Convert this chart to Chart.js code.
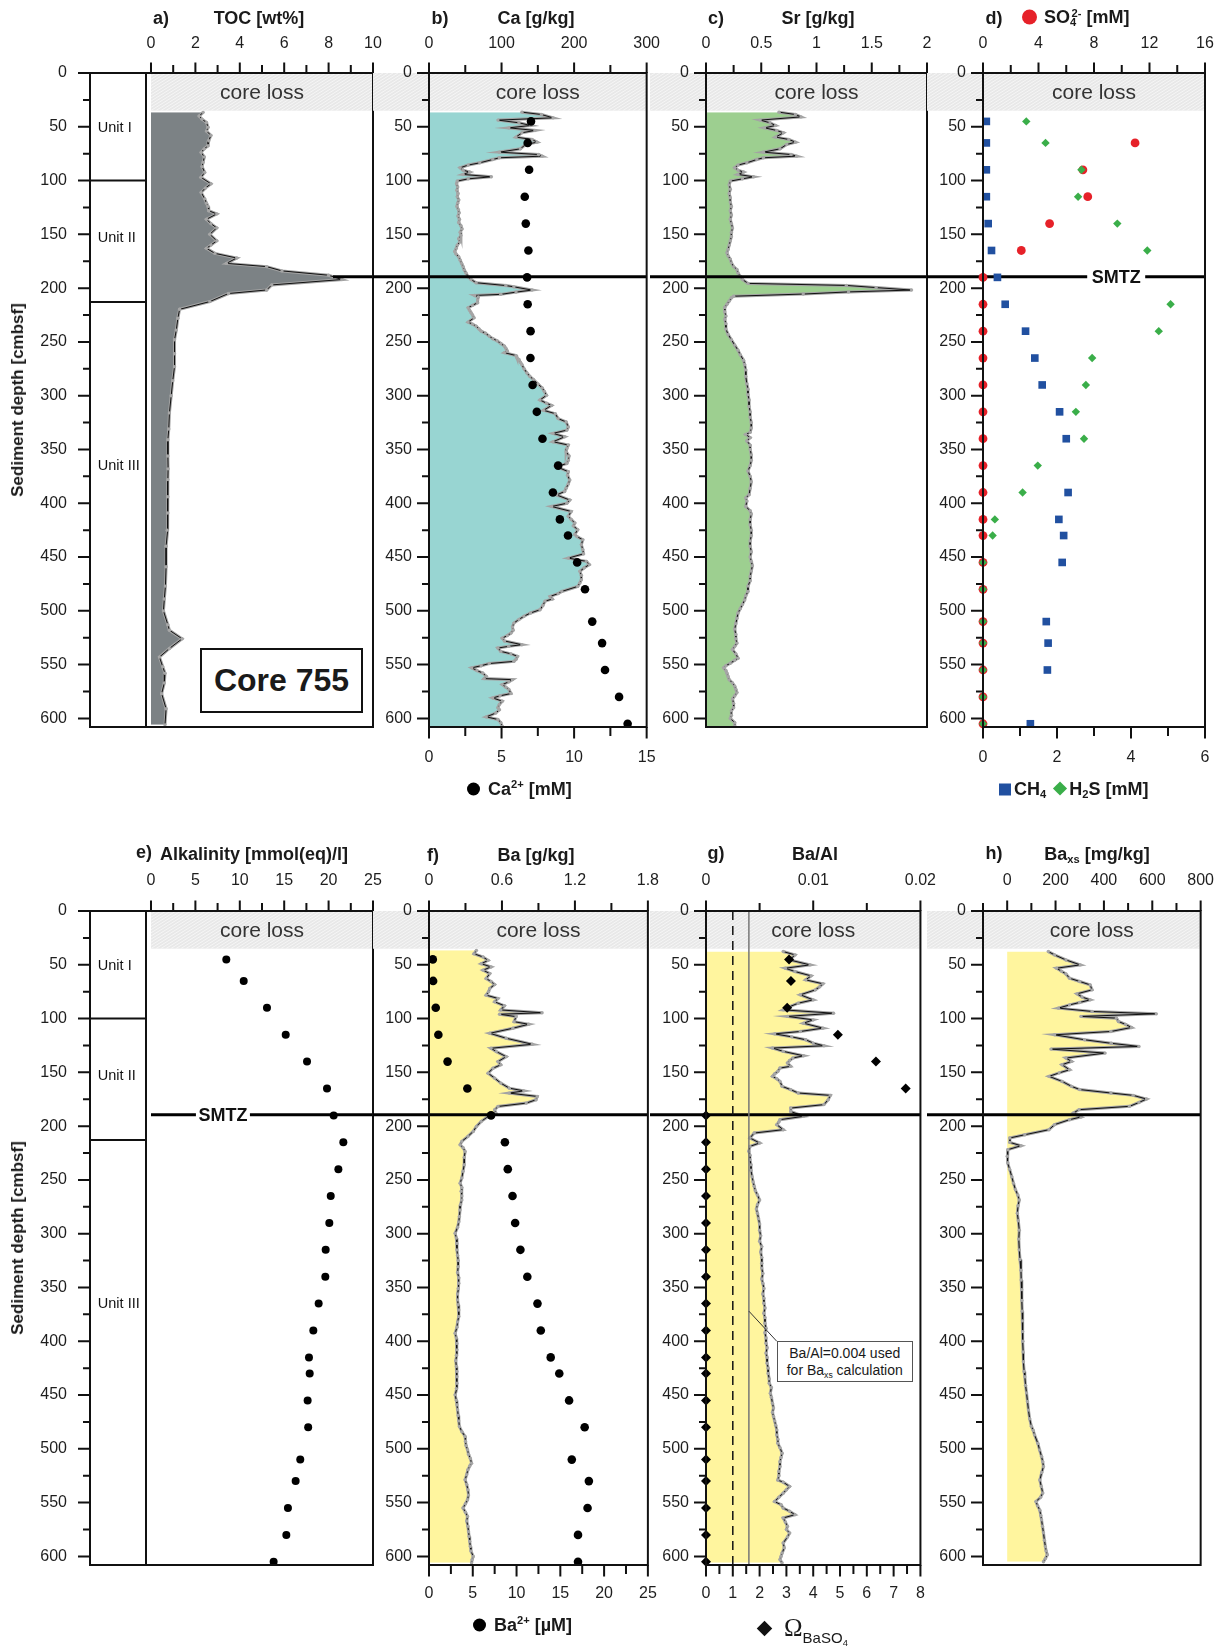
<!DOCTYPE html>
<html>
<head>
<meta charset="utf-8">
<title>Core 755 geochemical profiles</title>
<script src="https://cdn.jsdelivr.net/npm/chart.js@4.4.1/dist/chart.umd.min.js"></script>
<style>
  html, body { margin: 0; padding: 0; background: #fff; }
  body { position: relative; width: 1227px; height: 1647px; overflow: hidden;
         font-family: "Liberation Sans", Arial, sans-serif; color: #1a1a1a; }
  canvas { position: absolute; }
  .t { position: absolute; white-space: nowrap; transform: translate(-50%, -50%); }
  .l { position: absolute; white-space: nowrap; transform: translate(0, -50%); }
  .hd { font-weight: bold; font-size: 18px; }
  .lg { font-weight: bold; font-size: 18px; }
  .cl { font-size: 21px; color: #333; }
  .unit { font-size: 14.5px; color: #111; }
  .smtz { font-weight: bold; font-size: 18px; color: #111; }
  .yt { position: absolute; white-space: nowrap; font-weight: bold; font-size: 17px;
        transform: translate(-50%, -50%) rotate(-90deg); }
  sub, sup { font-size: 62%; line-height: 0; }
  sub { vertical-align: -0.35em; }
  sup { vertical-align: 0.55em; }
  .core { position: absolute; border: 2px solid #111; font-weight: bold; font-size: 32px;
          display: flex; align-items: center; justify-content: center; box-sizing: border-box; background: #fff; }
  .note { position: absolute; border: 1px solid #555; background: #fff; font-size: 14px; line-height: 17px;
          box-sizing: border-box; padding: 3px 0 0 0; text-align: center; color: #1a1a1a; }
</style>
</head>
<body>
<script>
// ---------------------------------------------------------------
// Depth scale, ticks and common levels (cm below sea floor)
// ---------------------------------------------------------------
const DEPTH_MAX = 608;
const CORE_LOSS = 35;          // top interval without recovery
const SMTZ_DEPTH = 189.5;      // sulfate-methane transition zone
const unitBounds = [100, 213];
const unitNames = [['Unit I', 50], ['Unit II', 152], ['Unit III', 364]];

const depthTicks = [0, 25, 50, 75, 100, 125, 150, 175, 200, 225, 250, 275, 300, 325, 350, 375, 400, 425, 450, 475, 500, 525, 550, 575, 600];
const depthLabels = [0, 50, 100, 150, 200, 250, 300, 350, 400, 450, 500, 550, 600];

// axis ticks / labelled ticks
const tocTicks = [0, 1, 2, 3, 4, 5, 6, 7, 8, 9, 10];
const tocLabels = [0, 2, 4, 6, 8, 10];
const caTicks = [0, 50, 100, 150, 200, 250, 300];
const caLabels = [0, 100, 200, 300];
const caPoreTicks = [0, 2.5, 5, 7.5, 10, 12.5, 15];
const caPoreLabels = [0, 5, 10, 15];
const srTicks = [0, 0.25, 0.5, 0.75, 1, 1.25, 1.5, 1.75, 2];
const srLabels = [0, 0.5, 1, 1.5, 2];
const so4Ticks = [0, 2, 4, 6, 8, 10, 12, 14, 16];
const so4Labels = [0, 4, 8, 12, 16];
const gasTicks = [0, 1, 2, 3, 4, 5, 6];
const gasLabels = [0, 2, 4, 6];
const alkTicks = [0, 2.5, 5, 7.5, 10, 12.5, 15, 17.5, 20, 22.5, 25];
const alkLabels = [0, 5, 10, 15, 20, 25];
const baTicks = [0, 0.3, 0.6, 0.9, 1.2, 1.5, 1.8];
const baLabels = [0, 0.6, 1.2, 1.8];
const baPoreTicks = [0, 2.5, 5, 7.5, 10, 12.5, 15, 17.5, 20, 22.5, 25];
const baPoreLabels = [0, 5, 10, 15, 20, 25];
const baAlTicks = [0, 0.005, 0.01, 0.015, 0.02];
const baAlLabels = [0, 0.01, 0.02];
const omegaTicks = [0, 0.5, 1, 1.5, 2, 2.5, 3, 3.5, 4, 4.5, 5, 5.5, 6, 6.5, 7, 7.5, 8];
const omegaLabels = [0, 1, 2, 3, 4, 5, 6, 7, 8];
const baxsTicks = [-100, 0, 100, 200, 300, 400, 500, 600, 700, 800];
const baxsLabels = [0, 200, 400, 600, 800];

// ---------------------------------------------------------------
// Pore-water data (sampling depths shared by all pore-water series)
// ---------------------------------------------------------------
const poreDepth = [45, 65, 90, 115, 140, 165, 190, 215, 240, 265, 290, 315, 340, 365, 390, 415, 430, 455, 480, 510, 530, 555, 580, 605];
const caPore = [7.03, 6.8, 6.9, 6.6, 6.67, 6.85, 6.76, 6.8, 7.0, 6.99, 7.14, 7.43, 7.82, 8.9, 8.54, 9.02, 9.58, 10.21, 10.75, 11.25, 11.93, 12.13, 13.1, 13.69];
const so4Pore = [null, 10.96, 7.2, 7.55, 4.8, 2.76, 0, 0, 0, 0, 0, 0, 0, 0, 0, 0, 0, 0, 0, 0, 0, 0, 0, 0];
const ch4Pore = [0.09, 0.09, 0.09, 0.09, 0.14, 0.23, 0.39, 0.6, 1.15, 1.4, 1.6, 2.07, 2.25, null, 2.3, 2.05, 2.18, 2.14, null, 1.71, 1.76, 1.74, null, 1.28];
const h2sPore = [1.17, 1.69, 2.66, 2.57, 3.63, 4.44, null, 5.07, 4.75, 2.95, 2.78, 2.51, 2.73, 1.48, 1.07, 0.32, 0.26, 0, 0, 0, 0, 0, 0, 0];
const alkalinity = [8.48, 10.44, 13.06, 15.17, 17.57, 19.82, 20.57, 21.66, 21.1, 20.24, 20.08, 19.67, 19.63, 18.88, 18.28, 17.79, 17.87, 17.64, 17.7, 16.81, 16.29, 15.42, 15.24, 13.81];
const baPore = [0.43, 0.47, 0.77, 1.07, 2.12, 4.38, 7.09, 8.67, 9.0, 9.54, 9.84, 10.44, 11.23, 12.39, 12.77, 13.9, 14.88, 16.0, 17.78, 16.31, 18.26, 18.11, 17.02, 17.02];
const omegaBaSO4 = [3.1, 3.17, 3.03, 4.92, 6.34, 7.45, 0, 0, 0, 0, 0, 0, 0, 0, 0, 0, 0, 0, 0, 0, 0, 0, 0, 0];

const BA_AL_DETRITAL = 0.004;   // Ba/Al used for Ba excess
const OMEGA_SATURATION = 1;

// ---------------------------------------------------------------
// Solid-phase profiles: [depth cm, value]
// ---------------------------------------------------------------
const tocProfile = [[36.6,2.35],[40,2.17],[43,2.3],[46,2.5],[50.5,2.57],[54,2.5],[58,2.7],[63,2.6],[67.6,2.57],[70.5,2.4],[73.8,2.26],[78,2.4],[83,2.35],[87,2.3],[92.4,2.42],[97,2.25],[103,2.7],[107,2.45],[111,2.26],[117,2.42],[121,2.5],[124,2.57],[128,2.6],[131,2.96],[136,2.5],[140,2.7],[144,2.96],[150,2.65],[156,2.96],[160,2.7],[163,2.5],[167.7,2.88],[172,3.86],[177,3.4],[180,5.21],[184,5.9],[188,8.0],[192,8.6],[197,5.44],[201.7,5.21],[205,3.49],[212.5,2.65],[219.7,1.29],[228,1.21],[239,1.14],[248,1.06],[261,1.06],[273,1.06],[286,0.98],[300,0.91],[316,0.83],[331,0.8],[341,0.76],[356,0.76],[368,0.77],[378,0.76],[394,0.76],[409,0.76],[425,0.73],[440,0.68],[459,0.68],[477,0.65],[489,0.6],[500,0.56],[513,0.76],[518,0.83],[526,1.4],[535,0.83],[543,0.38],[552,0.53],[558,0.63],[567,0.6],[577,0.48],[591,0.68],[606,0.63]];

const caProfile = [[36.4,128],[38.6,155],[41.7,171],[43.8,95],[46.3,124],[48.8,140],[51,110],[53.4,146],[55.6,128],[59.6,120],[61.8,142],[64.3,149],[66.5,133],[70.5,126],[73.6,97],[75.8,151],[77.3,156],[78.8,97],[80.4,88],[83.5,70],[85.6,54],[88.1,43],[90.3,47],[92.1,56],[94.3,47],[96.5,86],[98.4,54],[100.5,39],[103,38],[106,39.5],[109,38.5],[112,40],[115,39],[118,41],[121,39.5],[124,38.5],[127,40.5],[130,41.5],[133,40],[136,42],[139,41],[142,44],[145,45.5],[148,43],[151,44],[154,41],[157,42.5],[160,39],[163,37.5],[166,35.5],[168,37],[171,41],[174,43],[177,45],[180,47],[183,48.5],[186,51],[189.5,54],[192,58],[195,65],[197.6,106],[198.8,117],[201.8,142],[203.7,120],[205.8,99],[206.8,63],[208.3,68],[211,67],[213.6,67],[216,60],[218.2,54],[220.5,56],[222.9,58],[225,60],[227.6,62],[231.6,54],[233.5,60],[235.3,65],[238,69],[240,72],[242,78],[244.6,83],[247,88],[249,94],[251.5,99],[253.9,104],[256,106],[258.5,108],[260,104],[262.7,120],[264.5,121],[266.4,124],[269,126],[271,128],[275,131],[278.8,135],[282,139],[285,144],[289,150],[292.7,156],[296,159],[299.6,162],[304,153],[307,162],[309,169],[313.6,158],[316.7,174],[321.3,178],[324.4,189],[329,192],[332,190],[335,171],[338.2,187],[342.8,171],[345.9,192],[349,190],[352,189],[356,193],[360,192],[363,190],[366,176],[370.7,192],[374,191],[378.4,194],[382,192],[386,189],[389,187],[392.3,176],[397,194],[400,190],[403,169],[407.6,196],[412,192],[415,196],[418.4,201],[421,199],[424.6,205],[429,201],[431,204],[434,212],[438.6,210],[443,212],[447,213],[451,192],[454,217],[457,221],[460,214],[463.3,208],[467,210],[471,210],[474,208],[477.3,205],[482,183],[484,178],[486.6,167],[489,170],[491,160],[495,157],[499,153],[502,140],[505,131],[508,124],[511.4,117],[515,115],[518,116],[520.7,113],[523,108],[525.4,101],[528,104],[531.5,128],[533,110],[534.6,95],[537.7,99],[540,113],[542.3,122],[545,120],[547,117],[549,83],[551,72],[553,59],[555.5,66],[557.8,74],[560.9,79],[563,76],[564,115],[566,110],[568.6,101],[571,106],[573,110],[576.9,113],[579,98],[581,88],[584,101],[587,97],[590,95],[592,97],[595,92],[598.6,79],[601,95],[604,99],[607.5,101]];

const srProfile = [[36.4,0.66],[38.6,0.81],[40.8,0.86],[43.8,0.49],[46.3,0.58],[48.8,0.63],[51,0.53],[53.4,0.64],[55.6,0.70],[59.6,0.63],[61.8,0.75],[64.3,0.81],[66.5,0.73],[70.5,0.67],[73.6,0.52],[75.8,0.77],[77.3,0.82],[78.8,0.52],[80.4,0.46],[83.5,0.37],[85.6,0.29],[88.1,0.26],[90.3,0.29],[92.1,0.34],[94.3,0.29],[96.5,0.43],[98.4,0.33],[100.5,0.22],[104,0.21],[108,0.22],[112,0.21],[116,0.22],[120,0.22],[124,0.23],[128,0.22],[132,0.23],[136,0.22],[140,0.23],[144,0.24],[148,0.23],[152,0.23],[156,0.22],[160,0.21],[164,0.20],[167,0.19],[170,0.20],[173,0.22],[176.5,0.23],[180,0.25],[182.7,0.28],[186,0.29],[189,0.31],[192,0.33],[195.6,0.38],[197.5,1.27],[199.5,1.54],[201.8,1.86],[203.5,1.29],[205.5,0.88],[207.5,0.25],[209,0.23],[212,0.21],[215,0.19],[218,0.17],[222,0.17],[226,0.18],[229,0.17],[233,0.18],[238,0.18],[243,0.20],[248,0.23],[253,0.26],[257.7,0.29],[262,0.31],[267,0.34],[271,0.35],[276,0.36],[282,0.36],[289,0.37],[294,0.38],[299,0.38],[304,0.39],[310,0.39],[315,0.40],[320,0.40],[325,0.41],[330,0.41],[334,0.40],[336,0.36],[339,0.40],[342,0.37],[346,0.40],[350,0.40],[355,0.41],[360,0.41],[365,0.40],[370,0.38],[375,0.40],[380,0.41],[386,0.40],[392,0.39],[395,0.36],[398,0.37],[403,0.36],[407,0.40],[410,0.41],[415,0.40],[420,0.40],[425,0.41],[430,0.41],[435,0.40],[440,0.40],[445,0.41],[450,0.40],[454,0.41],[458,0.42],[463,0.41],[468,0.40],[472,0.40],[477,0.38],[482,0.38],[486,0.36],[490,0.35],[494,0.33],[498,0.31],[502,0.29],[507,0.28],[512,0.27],[517,0.26],[522,0.27],[526,0.27],[530,0.28],[533,0.26],[536,0.24],[540,0.27],[544,0.29],[546,0.26],[548.7,0.22],[551,0.18],[553,0.16],[555.5,0.18],[558,0.19],[561,0.20],[564,0.21],[567,0.24],[570,0.26],[573,0.27],[576,0.28],[579,0.26],[582,0.24],[586,0.25],[590,0.25],[593,0.23],[597,0.23],[600,0.22],[604,0.26],[607,0.26]];

const baProfile = [[36.6,0.39],[39.7,0.37],[42.8,0.445],[45.9,0.486],[49,0.43],[52,0.51],[55,0.445],[58.2,0.5],[62.8,0.47],[65.5,0.51],[68.4,0.54],[72,0.5],[75,0.49],[78.2,0.47],[81.3,0.567],[84.4,0.54],[88.1,0.62],[92,0.59],[94.6,0.93],[96,0.58],[98.2,0.716],[102.9,0.70],[105.3,0.82],[109,0.69],[113.7,0.5],[118.3,0.635],[123.9,0.85],[127.6,0.51],[130.7,0.554],[135.4,0.635],[140,0.567],[143,0.59],[146.2,0.526],[150.8,0.486],[155.4,0.54],[160,0.59],[164.7,0.66],[167.2,0.78],[169.3,0.66],[172.4,0.89],[175.5,0.88],[178.6,0.80],[181.7,0.567],[184.8,0.54],[187.9,0.55],[191,0.486],[195.6,0.43],[200.3,0.39],[204.9,0.364],[209.6,0.32],[214.2,0.27],[217.3,0.256],[220,0.28],[223.5,0.297],[229,0.29],[235.8,0.29],[242,0.28],[248.2,0.27],[253,0.256],[257,0.27],[260.6,0.264],[265,0.27],[268.7,0.27],[273,0.26],[278,0.255],[284,0.25],[289,0.245],[294,0.235],[299.6,0.215],[304,0.225],[309,0.23],[315,0.23],[320,0.235],[325,0.24],[330.6,0.24],[336,0.235],[341,0.245],[346,0.245],[351,0.24],[356,0.235],[361.5,0.235],[366,0.24],[371,0.245],[377,0.245],[382,0.235],[387,0.23],[392.5,0.215],[397,0.225],[402,0.23],[408,0.23],[413,0.225],[418,0.22],[423.4,0.225],[428,0.23],[433,0.23],[439,0.23],[444,0.225],[449.8,0.215],[455,0.225],[459,0.23],[463.7,0.235],[469,0.24],[474,0.245],[479.2,0.25],[484,0.27],[488.5,0.297],[493,0.3],[497,0.305],[500.9,0.317],[505,0.325],[509,0.34],[513.3,0.35],[516,0.335],[519.5,0.32],[524,0.31],[528.8,0.297],[533,0.31],[538,0.32],[543,0.325],[547.4,0.317],[551,0.3],[555,0.28],[559,0.3],[562.8,0.317],[567,0.31],[572,0.32],[577,0.325],[581.4,0.33],[586,0.335],[590.7,0.34],[595,0.345],[600,0.364],[603,0.355],[606,0.35]];

const baAlProfile = [[37.7,0.0072],[40.8,0.0083],[45.5,0.0078],[50.1,0.0097],[53.2,0.0074],[56.3,0.0083],[60.3,0.0098],[64,0.0093],[67.7,0.0109],[70.5,0.0106],[73.3,0.0102],[77.9,0.0088],[82.6,0.0100],[85.7,0.0086],[89,0.0078],[91.9,0.0072],[95,0.0119],[98,0.0076],[101.2,0.0100],[104.3,0.0091],[108.9,0.0109],[112,0.0088],[114.2,0.0064],[117,0.0080],[119.7,0.0093],[122.8,0.0100],[125.3,0.0110],[127.4,0.0062],[130.5,0.0072],[134.6,0.0091],[136.7,0.0081],[139,0.0078],[141.3,0.0076],[144.4,0.0079],[146,0.0069],[149.1,0.0067],[151.5,0.0064],[153.7,0.0062],[156,0.0066],[158.4,0.0069],[163,0.0071],[166.1,0.0079],[169.2,0.0086],[171.4,0.0116],[175.4,0.0114],[180,0.0110],[183.2,0.0079],[186.3,0.0079],[190.9,0.0091],[194,0.0069],[196,0.0068],[198.6,0.0066],[203.3,0.0072],[206.4,0.0045],[211,0.0041],[215.7,0.0050],[218.8,0.0041],[223.4,0.0040],[227,0.0041],[231.1,0.0041],[236,0.0042],[241,0.0042],[247,0.0043],[252,0.0044],[256,0.0045],[260,0.0046],[264,0.0048],[268.7,0.0050],[273,0.0048],[277,0.0047],[281,0.0048],[286,0.0049],[291,0.0050],[296.7,0.0050],[302,0.0051],[307,0.0050],[312,0.0052],[317,0.0051],[322,0.0052],[327.5,0.0052],[332,0.0052],[337,0.0053],[342,0.0052],[346,0.0053],[351,0.0054],[356,0.0053],[360,0.0054],[364.6,0.0054],[369,0.0055],[374,0.0054],[378,0.0055],[383.2,0.0055],[388,0.0056],[392,0.0055],[397,0.0056],[401.8,0.0056],[406,0.0057],[411,0.0056],[415,0.0057],[420.4,0.0057],[425,0.0058],[430,0.0058],[435,0.0059],[439,0.0059],[443,0.0061],[448.3,0.0060],[452,0.0061],[457.6,0.0062],[462,0.0063],[466,0.0062],[470,0.0063],[474,0.0064],[478,0.0065],[482.4,0.0066],[487,0.0066],[491,0.0067],[494.8,0.0067],[499,0.0069],[504,0.0071],[508,0.0070],[512,0.0069],[516.5,0.0069],[521,0.0068],[525,0.0068],[529,0.0067],[531,0.0072],[535,0.0078],[538,0.0075],[541.2,0.0072],[545,0.0068],[549,0.0064],[552,0.0070],[555,0.0072],[558,0.0078],[561.2,0.0083],[564.3,0.0072],[568,0.0074],[572,0.0076],[575,0.0075],[578.3,0.0078],[582,0.0076],[587.6,0.0072],[592,0.0073],[596.9,0.0071],[600,0.0070],[603,0.0069],[606,0.0071]];

const baxsProfile = [[37.7,170],[40.8,196],[45.5,243],[50.1,302],[53.2,204],[56,225],[58.5,243],[62.5,258],[65.5,300],[68.7,343],[73.3,351],[77,289],[80,310],[82.6,343],[85,300],[87.3,258],[90.3,212],[93.4,351],[95.6,617],[98,305],[99.6,452],[102.7,460],[105.5,490],[108.3,514],[112,429],[115.1,196],[119.7,320],[123,430],[125.9,545],[128.4,181],[132.1,405],[136.7,243],[139.8,266],[142.9,227],[147.6,258],[150.5,215],[153.7,173],[158.4,227],[163,266],[166,300],[169.2,429],[171.4,521],[174.8,576],[178,545],[181.6,506],[184.7,297],[187.8,274],[191.5,305],[194,258],[198.6,196],[203.3,173],[208,73],[211,11],[215.1,11],[218.2,57],[221.9,3],[228,0],[234,3],[240,10],[247,19],[253,26],[259,34],[264,44],[268.7,50],[274,45],[281,42],[288,46],[296.7,50],[305,48],[315,50],[324,53],[334,57],[343,58],[352,60],[362,61],[372,62],[381,63],[391,64],[400,65],[410,66],[419,67],[428,70],[433,73],[441,76],[448,80],[456,84],[464,88],[472,93],[479,100],[483,108],[487,113],[495,127],[501,134],[507,142],[512,147],[516.5,150],[522,143],[529,135],[535,141],[541,147],[545,138],[549,119],[553,126],[557,135],[562,139],[566,142],[572,146],[578,150],[585,154],[591,158],[595,161],[598.5,166],[602,158],[605,150]];

// ---------------------------------------------------------------
// Styling
// ---------------------------------------------------------------
const FONT = '"Liberation Sans", Arial, sans-serif';
const TXT = '#1e1e1e';
const INK = '#111';
const tickFont = { family: FONT, size: 16 };
const FILL = { toc: '#7c8285', ca: '#98d5d2', sr: '#9dcf90', ba: '#fff59e' };

// ---------------------------------------------------------------
// Helpers for datasets
// ---------------------------------------------------------------
function profileSets(pairs, fillColor) {
  const under = pairs.map(([d, v]) => ({ x: v, y: d }));
  const over = pairs.map(([d, v]) => ({ x: v, y: d }));
  return [
    { data: under, role: 'under', fill: 'origin', backgroundColor: fillColor, borderColor: '#a3a3a3',
      borderWidth: 3, pointRadius: 0, order: 5 },
    { data: over, role: 'line', fill: false, borderColor: '#111', borderWidth: 1,
      pointRadius: 1.7, pointBackgroundColor: '#a6a6a6', pointBorderWidth: 0, order: 4 }
  ];
}
function markerSet(values, style, radius, color, axis, order) {
  const data = [];
  poreDepth.forEach((d, i) => { if (values[i] !== null) data.push({ x: values[i], y: d }); });
  return { data, xAxisID: axis, showLine: false, pointStyle: style, pointRadius: radius,
           pointBackgroundColor: color, pointBorderWidth: 0, clip: false, order };
}
function refLine(value, axis, color, dash) {
  return { data: [{ x: value, y: 0 }, { x: value, y: DEPTH_MAX }], xAxisID: axis, borderColor: color,
           borderWidth: 1.5, borderDash: dash, pointRadius: 0, fill: false, order: 3 };
}

// ---------------------------------------------------------------
// Axes
// ---------------------------------------------------------------
function depthAxis(show, width, pad) {
  const ax = {
    type: 'linear', position: 'left', reverse: true, min: 0, max: DEPTH_MAX, display: show,
    grid: { display: false, drawTicks: false }, border: { display: false },
    afterBuildTicks: s => { s.ticks = depthTicks.map(v => ({ value: v })); },
    ticks: { autoSkip: false, padding: pad, font: tickFont, color: TXT,
             callback: v => depthLabels.includes(v) ? String(v) : '' }
  };
  if (show) ax.afterFit = s => { s.width = width; };
  return ax;
}
function valueAxis(position, min, max, ticks, labels, pad) {
  return {
    type: 'linear', position, min, max,
    grid: { display: false, drawTicks: false }, border: { display: false },
    afterBuildTicks: s => { s.ticks = ticks.map(v => ({ value: v })); },
    afterFit: s => { s.height = 73; },
    ticks: { autoSkip: false, maxRotation: 0, minRotation: 0, padding: pad, font: tickFont, color: TXT,
             callback: v => labels.includes(v) ? String(v) : '' }
  };
}

// ---------------------------------------------------------------
// Decoration plugin: core-loss band, SMTZ line, frame, tick marks
// ---------------------------------------------------------------
function drawBand(chart, o) {
  const { ctx, chartArea: a, scales } = chart;
  const y0 = scales.y.getPixelForValue(0), y1 = scales.y.getPixelForValue(CORE_LOSS);
  const x0 = o.band === 'zero' ? scales.x.getPixelForValue(0) : 0;
  const x1 = a.right;
  ctx.save();
  ctx.fillStyle = '#e8e8e8';
  ctx.fillRect(x0, y0, x1 - x0, y1 - y0);
  ctx.beginPath(); ctx.rect(x0, y0, x1 - x0, y1 - y0); ctx.clip();
  ctx.strokeStyle = 'rgba(255,255,255,0.6)'; ctx.lineWidth = 1;
  ctx.beginPath();
  const h = y1 - y0;
  for (let x = x0 - h * 1.6; x < x1; x += 5) { ctx.moveTo(x, y1); ctx.lineTo(x + h * 1.6, y0); }
  ctx.stroke();
  ctx.restore();
}
function drawSmtz(chart, s) {
  const { ctx, chartArea: a, scales } = chart;
  const y = scales.y.getPixelForValue(SMTZ_DEPTH);
  const x0 = s.from === 'edge' ? 0 : scales.x.getPixelForValue(s.from);
  const x1 = a.right;
  ctx.save();
  ctx.strokeStyle = '#000'; ctx.lineWidth = 3; ctx.beginPath();
  if (s.gap !== undefined) {
    const g = scales.x.getPixelForValue(s.gap);
    ctx.moveTo(x0, y); ctx.lineTo(g - s.half, y);
    ctx.moveTo(g + s.half, y); ctx.lineTo(x1, y);
  } else { ctx.moveTo(x0, y); ctx.lineTo(x1, y); }
  ctx.stroke(); ctx.restore();
}
const decoPlugin = {
  id: 'deco',
  beforeDraw(chart, args, o) { if (o.band) drawBand(chart, o); },
  beforeDatasetsDraw(chart, args, o) { if (o.smtz && o.smtz.after === 'start') drawSmtz(chart, o.smtz); },
  afterDatasetDraw(chart, args, o) {
    if (o.smtz && o.smtz.after === 'line' && chart.data.datasets[args.index].role === 'line') drawSmtz(chart, o.smtz);
  },
  afterDraw(chart, args, o) {
    const { ctx, chartArea: a, scales } = chart;
    ctx.save();
    ctx.strokeStyle = INK; ctx.lineWidth = 2; ctx.lineCap = 'butt';
    // unit boundaries
    if (o.units) {
      ctx.beginPath();
      unitBounds.forEach(d => { const y = scales.y.getPixelForValue(d); ctx.moveTo(a.left, y); ctx.lineTo(a.right, y); });
      ctx.stroke();
    }
    // frame
    ctx.strokeRect(a.left, a.top, a.right - a.left, a.bottom - a.top);
    // tick marks
    ctx.beginPath();
    Object.keys(o.marks || {}).forEach(id => {
      const s = scales[id]; const [maj, min] = o.marks[id];
      s.ticks.forEach(t => {
        const p = s.getPixelForValue(t.value);
        const L = t.label ? maj : min;
        if (id === 'y') { ctx.moveTo(a.left, p); ctx.lineTo(a.left - L, p); }
        else if (s.position === 'top') { ctx.moveTo(p, a.top); ctx.lineTo(p, a.top - L); }
        else { ctx.moveTo(p, a.bottom); ctx.lineTo(p, a.bottom + L); }
      });
    });
    ctx.stroke();
    // leader from reference line to note box
    if (o.leader) {
      const [f, t] = o.leader;
      ctx.lineWidth = 1; ctx.strokeStyle = '#333';
      ctx.beginPath();
      ctx.moveTo(scales.x.getPixelForValue(f[0]), scales.y.getPixelForValue(f[1]));
      ctx.lineTo(scales.x.getPixelForValue(t[0]), scales.y.getPixelForValue(t[1]));
      ctx.stroke();
    }
    ctx.restore();
  }
};

// ---------------------------------------------------------------
// Panel factory
// ---------------------------------------------------------------
function makePanel(spec) {
  const cv = document.createElement('canvas');
  cv.width = spec.width; cv.height = 800;
  cv.style.left = spec.left + 'px'; cv.style.top = spec.top + 'px';
  document.body.appendChild(cv);
  const scales = Object.assign({ y: depthAxis(!!spec.yWidth, spec.yWidth, spec.yPad) }, spec.scales);
  const chart = new Chart(cv.getContext('2d'), {
    type: 'line',
    data: { datasets: spec.datasets },
    options: {
      indexAxis: 'y', responsive: false, animation: false, devicePixelRatio: 1, events: [],
      layout: { padding: { left: spec.padLeft || 0, right: spec.padRight || 0,
                           top: spec.padTop || 0, bottom: spec.padBottom || 0 } },
      scales,
      plugins: { legend: { display: false }, tooltip: { enabled: false }, deco: spec.deco }
    },
    plugins: [decoPlugin]
  });
  return { chart, left: spec.left, top: spec.top };
}

function addText(html, cls, x, y) {
  const el = document.createElement('div');
  el.className = cls; el.innerHTML = html;
  el.style.left = x + 'px'; el.style.top = y + 'px';
  document.body.appendChild(el);
  return el;
}
function addAt(p, html, cls, xv, yv, axis) {
  const s = p.chart.scales;
  return addText(html, cls, p.left + s[axis || 'x'].getPixelForValue(xv), p.top + s.y.getPixelForValue(yv));
}

const hiddenX = { type: 'linear', min: 0, max: 1, display: false };
const rows = [{ top: 0, tPad: 20, bPad: 21 }, { top: 838, tPad: 21, bPad: 19 }];
const yMarks = [12, 7];

// ---------------------------------------------------------------
// Row 1
// ---------------------------------------------------------------
const r1 = rows[0];
const pU1 = makePanel({ left: 0, top: r1.top, width: 156, yWidth: 90, yPad: 23, padRight: 10, padTop: 73, padBottom: 73,
  scales: { x: hiddenX }, datasets: [], deco: { units: true, marks: { y: yMarks } } });

const pA = makePanel({ left: 106, top: r1.top, width: 297, padLeft: 40, padRight: 30, padBottom: 73,
  scales: { x: valueAxis('top', -0.225, 10, tocTicks, tocLabels, r1.tPad) },
  datasets: profileSets(tocProfile, FILL.toc),
  deco: { band: 'zero', smtz: { after: 'line', from: 8.2 }, marks: { x: [10.5, 8] } } });

const pB = makePanel({ left: 373, top: r1.top, width: 307, yWidth: 56, yPad: 17, padRight: 30,
  scales: { x: valueAxis('top', 0, 300, caTicks, caLabels, r1.tPad),
            x2: valueAxis('bottom', 0, 15, caPoreTicks, caPoreLabels, r1.bPad) },
  datasets: [markerSet(caPore, 'circle', 4.3, '#000', 'x2', 1)].concat(profileSets(caProfile, FILL.ca)),
  deco: { band: 'edge', smtz: { after: 'line', from: 'edge' }, marks: { y: yMarks, x: [10.5, 8], x2: [11.5, 9] } } });

const pC = makePanel({ left: 650, top: r1.top, width: 307, yWidth: 56, yPad: 17, padRight: 30, padBottom: 73,
  scales: { x: valueAxis('top', 0, 2, srTicks, srLabels, r1.tPad) },
  datasets: profileSets(srProfile, FILL.sr),
  deco: { band: 'edge', smtz: { after: 'line', from: 'edge' }, marks: { y: yMarks, x: [10.5, 8] } } });

const pD = makePanel({ left: 927, top: r1.top, width: 308, yWidth: 56, yPad: 17, padRight: 30,
  scales: { x: valueAxis('top', 0, 16, so4Ticks, so4Labels, r1.tPad),
            x2: valueAxis('bottom', 0, 6, gasTicks, gasLabels, r1.bPad) },
  datasets: [
    markerSet(h2sPore, 'rectRot', 4.2, '#3aae49', 'x2', 0),
    markerSet(ch4Pore, 'rect', 5.4, '#2150a0', 'x2', 1),
    markerSet(so4Pore, 'circle', 4.4, '#e62129', 'x', 2)
  ],
  deco: { band: 'edge', smtz: { after: 'start', from: 'edge', gap: 9.6, half: 29 }, marks: { y: yMarks, x: [10.5, 8], x2: [11.5, 9] } } });

// ---------------------------------------------------------------
// Row 2
// ---------------------------------------------------------------
const r2 = rows[1];
const pU2 = makePanel({ left: 0, top: r2.top, width: 156, yWidth: 90, yPad: 23, padRight: 10, padTop: 73, padBottom: 73,
  scales: { x: hiddenX }, datasets: [], deco: { units: true, marks: { y: yMarks } } });

const pE = makePanel({ left: 106, top: r2.top, width: 297, padLeft: 40, padRight: 30, padBottom: 73,
  scales: { x: valueAxis('top', -0.5625, 25, alkTicks, alkLabels, r2.tPad) },
  datasets: [markerSet(alkalinity, 'circle', 4, '#000', 'x', 1)],
  deco: { band: 'zero', smtz: { after: 'start', from: 0, gap: 8.1, half: 27 }, marks: { x: [10.5, 8] } } });

const pF = makePanel({ left: 373, top: r2.top, width: 307, yWidth: 56, yPad: 17, padRight: 30,
  scales: { x: valueAxis('top', 0, 1.8, baTicks, baLabels, r2.tPad),
            x2: valueAxis('bottom', 0, 25, baPoreTicks, baPoreLabels, r2.bPad) },
  datasets: [markerSet(baPore, 'circle', 4.3, '#000', 'x2', 1)].concat(profileSets(baProfile, FILL.ba)),
  deco: { band: 'edge', smtz: { after: 'line', from: 'edge' }, marks: { y: yMarks, x: [10.5, 8], x2: [11.5, 9] } } });

const pG = makePanel({ left: 650, top: r2.top, width: 307, yWidth: 56, yPad: 17, padRight: 30,
  scales: { x: valueAxis('top', 0, 0.02, baAlTicks, baAlLabels, r2.tPad),
            x2: valueAxis('bottom', 0, 8, omegaTicks, omegaLabels, r2.bPad) },
  datasets: [
    markerSet(omegaBaSO4, 'rectRot', 5, '#000', 'x2', 1),
    refLine(BA_AL_DETRITAL, 'x', '#777', []),
    refLine(OMEGA_SATURATION, 'x2', '#111', [9, 6])
  ].concat(profileSets(baAlProfile, FILL.ba)),
  deco: { band: 'edge', smtz: { after: 'line', from: 'edge' }, leader: [[BA_AL_DETRITAL, 372], [0.0066, 400]],
          marks: { y: yMarks, x: [10.5, 8], x2: [11.5, 9] } } });

const pH = makePanel({ left: 927, top: r2.top, width: 308, yWidth: 56, yPad: 17, padRight: 30, padBottom: 73,
  scales: { x: valueAxis('top', -100, 800, baxsTicks, baxsLabels, r2.tPad) },
  datasets: profileSets(baxsProfile, FILL.ba),
  deco: { band: 'edge', smtz: { after: 'line', from: 'edge' }, marks: { y: yMarks, x: [10.5, 8] } } });

// ---------------------------------------------------------------
// Text: panel titles, legends, annotations
// ---------------------------------------------------------------
addText('a)', 't hd', 161, 18);
addText('TOC [wt%]', 't hd', 259, 18);
addText('b)', 't hd', 440, 18);
addText('Ca [g/kg]', 't hd', 536, 18);
addText('c)', 't hd', 716, 18);
addText('Sr [g/kg]', 't hd', 818, 18);
addText('d)', 't hd', 994, 18);
addText('<span style="display:inline-block;width:15px;height:15px;border-radius:50%;background:#e62129;vertical-align:-2px;margin-right:7px"></span>SO<sub>4</sub><sup style="margin-left:-0.42em">2-</sup> [mM]', 'l hd', 1022, 17);

addText('<span style="display:inline-block;width:13px;height:13px;border-radius:50%;background:#000;vertical-align:-1px;margin-right:8px"></span>Ca<sup>2+</sup> [mM]', 'l lg', 467, 789);
addText('<span style="display:inline-block;width:12px;height:12px;background:#2150a0;vertical-align:-1px;margin-right:3px"></span>CH<sub>4</sub> <span style="display:inline-block;width:10px;height:10px;background:#3aae49;transform:rotate(45deg);vertical-align:1px;margin:0 4px 0 4px"></span>H<sub>2</sub>S [mM]', 'l lg', 999, 789);

addText('e)', 't hd', 144, 852);
addText('Alkalinity [mmol(eq)/l]', 'l hd', 160, 854);
addText('f)', 't hd', 433, 855);
addText('Ba [g/kg]', 't hd', 536, 855);
addText('g)', 't hd', 716, 853);
addText('Ba/Al', 't hd', 815, 854);
addText('h)', 't hd', 994, 853);
addText('Ba<sub>xs</sub> [mg/kg]', 't hd', 1097, 854);

addText('<span style="display:inline-block;width:13px;height:13px;border-radius:50%;background:#000;vertical-align:-1px;margin-right:8px"></span>Ba<sup>2+</sup> [µM]', 'l lg', 473, 1625);
addText('<span style="display:inline-block;width:11px;height:11px;background:#111;transform:rotate(45deg);vertical-align:2px;margin-right:14px"></span><span style="font-family:\'Liberation Serif\',\'DejaVu Serif\',serif;font-weight:normal;font-size:25px">Ω</span><span style="font-weight:normal;font-size:15px;position:relative;top:7px">BaSO<sub>4</sub></span>', 'l lg', 759, 1628);

addText('Sediment depth [cmbsf]', 'yt', 18, 400);
addText('Sediment depth [cmbsf]', 'yt', 18, 1238);

// core-loss labels
[[pA, 5], [pB, 150], [pC, 1], [pD, 8], [pE, 12.5], [pF, 0.9], [pG, 0.01], [pH, 350]].forEach(([p, xv]) => {
  addAt(p, 'core loss', 't cl', xv, CORE_LOSS / 2);
});

// lithological units
[pU1, pU2].forEach(p => unitNames.forEach(([n, d]) => addAt(p, n, 'l unit', 0.14, d)));

// SMTZ labels
addAt(pD, 'SMTZ', 't smtz', 9.6, SMTZ_DEPTH);
addAt(pE, 'SMTZ', 't smtz', 8.1, SMTZ_DEPTH);

// core label
const core = addText('Core 755', 'core', 200, 648);
core.style.width = '163px'; core.style.height = '65px';

// note box for the Ba/Al reference line
const nx = pG.left + pG.chart.scales.x.getPixelForValue(0.0066);
const ny = pG.top + pG.chart.scales.y.getPixelForValue(400);
const note = addText('Ba/Al=0.004 used<br>for Ba<sub>xs</sub> calculation', 'note', nx, ny);
note.style.width = '136px'; note.style.height = '41px';
</script>
</body>
</html>
